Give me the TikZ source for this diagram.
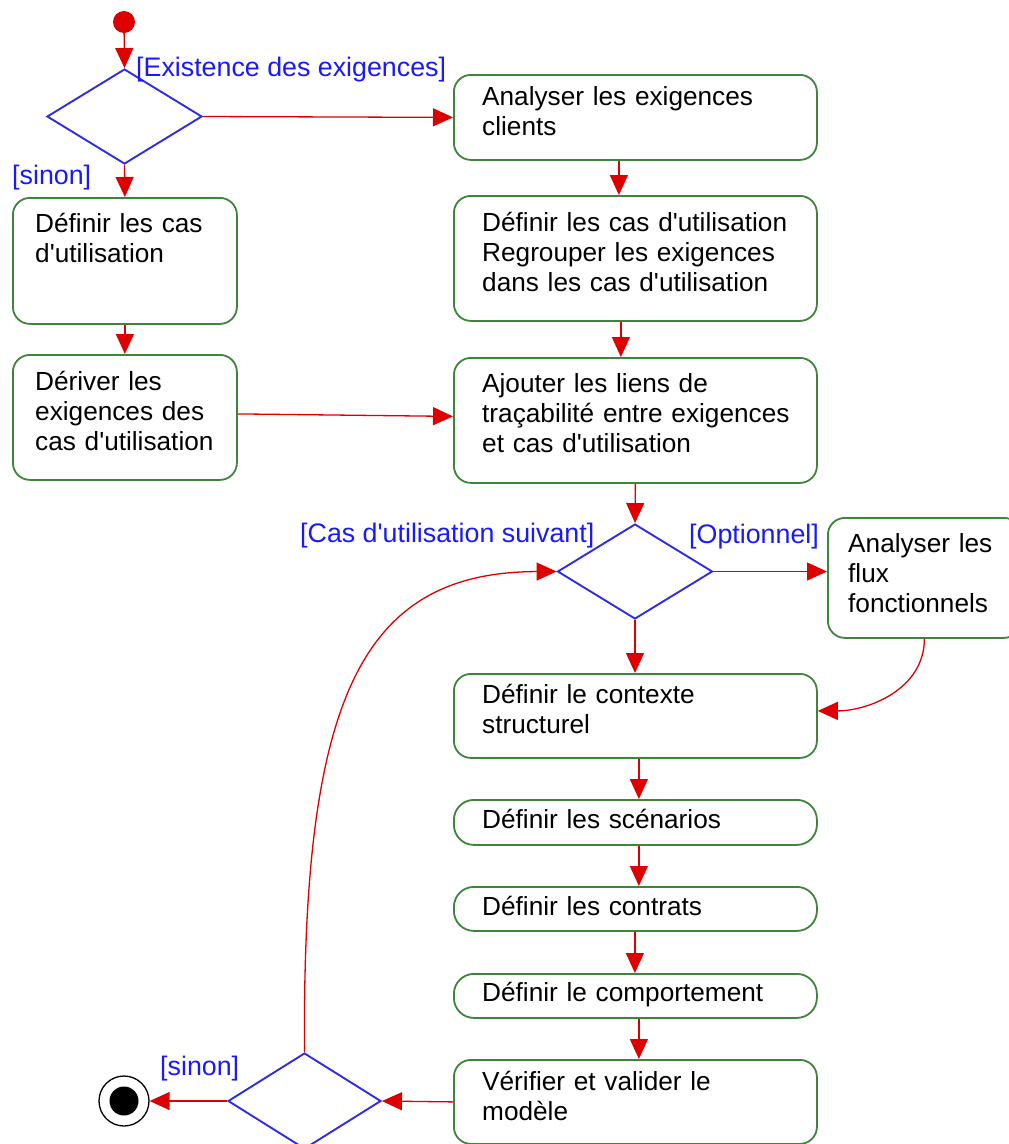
\documentclass[tikz,border=0pt]{standalone}
\usepackage{fontspec}
\setmainfont{Liberation Sans}[Ligatures=TeXOff]
\usetikzlibrary{arrows.meta,shapes.geometric}
\definecolor{boxgreen}{RGB}{62,132,58}
\definecolor{arrred}{RGB}{222,0,0}
\definecolor{diablue}{RGB}{45,45,230}
\definecolor{lblblue}{RGB}{25,25,250}
\begin{document}
\begin{tikzpicture}[x=1pt,y=-1pt,
  font=\fontsize{26.2}{30}\selectfont,
  box/.style={draw=boxgreen, line width=1.8pt, rounded corners=17pt, inner sep=0pt, anchor=north west},
  pill/.style={box, rounded corners=20pt},
  txt/.style={anchor=base west, align=left, inner sep=0pt, text width=360pt},
  lbl/.style={anchor=base west, inner sep=0pt, text=lblblue, font=\fontsize{26.8}{30}\selectfont},
  dec/.style={diamond, draw=diablue, line width=1.9pt, inner sep=0pt},
  arr/.style={draw=arrred, line width=1.3pt, -{Triangle[length=20pt,width=18pt]}}
]
\useasboundingbox (0,0) rectangle (1009,1144);

% initial and final nodes
\node[circle, fill=arrred, minimum size=22pt, inner sep=0pt] (init) at (124,22) {};
\node[circle, draw=black, line width=1.3pt, minimum size=50pt, inner sep=0pt] (fin) at (124,1101) {};
\node[circle, fill=black, minimum size=29pt, inner sep=0pt] (finin) at (fin.center) {};

% decisions
\node[dec, minimum width=155pt, minimum height=95pt] (d1) at (124.5,116.5) {};
\node[dec, minimum width=155pt, minimum height=95pt] (d2) at (635,571.5) {};
\node[dec, minimum width=153pt, minimum height=96pt] (d3) at (304.5,1101) {};

% boxes
\node[box, minimum width=363pt, minimum height=85pt] (a1) at (453,74) {};
\node[box, minimum width=363pt, minimum height=125pt] (a2) at (453,195) {};
\node[box, minimum width=363pt, minimum height=125pt] (a3) at (453,357) {};
\node[box, minimum width=224pt, minimum height=126pt] (l1) at (12,197) {};
\node[box, minimum width=224pt, minimum height=125pt] (l2) at (12,354) {};
\node[box, minimum width=193pt, minimum height=120pt] (fl) at (827,517) {};
\node[box, minimum width=363pt, minimum height=84pt] (ctx) at (453,673) {};
\node[pill, minimum width=363pt, minimum height=45pt] (sce) at (453,799) {};
\node[pill, minimum width=363pt, minimum height=44pt] (con) at (453,886) {};
\node[pill, minimum width=363pt, minimum height=44pt] (cmp) at (453,973) {};
\node[box, minimum width=363pt, minimum height=84pt] (ver) at (453,1059) {};

% texts
\node[txt] (a1t) at (482,105) {Analyser les exigences\\clients};
\node[txt] (a2t) at (482,231) {Définir les cas d'utilisation\\Regrouper les exigences\\dans les cas d'utilisation};
\node[txt] (a3t) at (482,392) {Ajouter les liens de\\traçabilité entre exigences\\et cas d'utilisation};
\node[txt] (l1t) at (35,232) {Définir les cas\\d'utilisation};
\node[txt] (l2t) at (35,390) {Dériver les\\exigences des\\cas d'utilisation};
\node[txt] (flt) at (848,552) {Analyser les\\flux\\fonctionnels};
\node[txt] (ctxt) at (482,703) {Définir le contexte\\structurel};
\node[txt] (scet) at (482,828) {Définir les scénarios};
\node[txt] (cont) at (482,915) {Définir les contrats};
\node[txt] (cmpt) at (482,1001) {Définir le comportement};
\node[txt] (vert) at (482,1090) {Vérifier et valider le\\modèle};

% guard labels
\node[lbl] (g1) at (136,76) {[Existence des exigences]};
\node[lbl] (g2) at (12,184) {[sinon]};
\node[lbl] (g3) at (300,542) {[Cas d'utilisation suivant]};
\node[lbl] (g4) at (689,543) {[Optionnel]};
\node[lbl] (g5) at (160,1075) {[sinon]};

% connectors
\draw[arr] (init) -- (d1.north);
\draw[arr] (d1.east) -- (a1.west);
\draw[arr] (d1.south) -- (l1.north);
\draw[arr] (l1.south) -- (l2.north);
\draw[arr] ([yshift=3.5pt]l2.east) -- ([yshift=4pt]a3.west);
\draw[arr] ([xshift=-16.5pt]a1.south) -- ([xshift=-16.5pt]a2.north);
\draw[arr] ([xshift=-14.5pt]a2.south) -- ([xshift=-14.5pt]a3.north);
\draw[arr] (a3.south) -- (d2.north);
\draw[arr] (d2.east) -- (d2.east -| fl.west);
\draw[arr] (d2.south) -- (ctx.north -| d2.south);
\draw[arr] (fl.south) to[out=-90, in=0] ([yshift=5pt]ctx.east);
\draw[arr] ([xshift=3.5pt]ctx.south) -- ([xshift=3.5pt]sce.north);
\draw[arr] ([xshift=3.5pt]sce.south) -- ([xshift=3.5pt]con.north);
\draw[arr] ([xshift=-0.5pt]con.south) -- ([xshift=-0.5pt]cmp.north);
\draw[arr] ([xshift=3.5pt]cmp.south) -- ([xshift=3.5pt]ver.north);
\draw[arr] (ver.west) -- (d3.east);
\draw[arr] (d3.west) -- (fin.east);
\draw[arr] (d3.north) .. controls (302,700) and (360,572) .. (d2.west);
\end{tikzpicture}
\end{document}
